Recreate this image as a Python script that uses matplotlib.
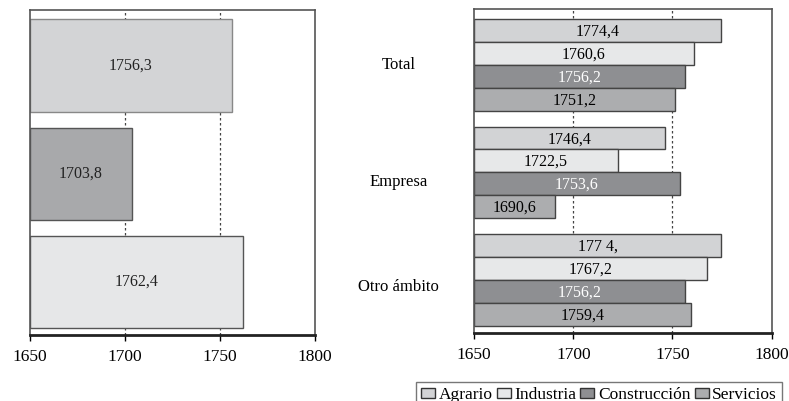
import matplotlib.pyplot as plt
from matplotlib.patches import Patch

plt.rcParams['font.family'] = ['Liberation Serif', 'DejaVu Serif']

# horas anuales por sector
sectores = ["Agrario", "Industria", "Construcción", "Servicios"]
colores = ["#d2d3d5", "#e7e8e9", "#8e8f92", "#acadaf"]
texto_col = ["black", "black", "white", "black"]

# panel izquierdo
izq_vals = [1756.3, 1703.8, 1762.4]
izq_cols = ["#d3d4d6", "#a8a9ab", "#e6e7e8"]

# panel derecho
ambitos = ["Total", "Empresa", "Otro ámbito"]
total = [1774.4, 1760.6, 1756.2, 1751.2]
empresa = [1746.4, 1722.5, 1753.6, 1690.6]
otro = [1774.4, 1767.2, 1756.2, 1759.4]
otro_etiq = ["177 4,", "1767,2", "1756,2", "1759,4"]

fig = plt.figure(figsize=(7.89, 4.01), dpi=100)
ax1 = fig.add_axes([0.038, 0.165, 0.361, 0.81])
ax2 = fig.add_axes([0.601, 0.170, 0.377, 0.807])

base = 1650
paso = 4.7

def estilo(ax):
    ax.set_xlim(1650, 1800)
    ax.set_xticks([1650, 1700, 1750, 1800])
    ax.set_yticks([])
    for x in (1700, 1750):
        ax.axvline(x, color="#444444", ls=(0, (2, 2)), lw=0.9, zorder=0)
    for s in ax.spines.values():
        s.set_color("#555555")
        s.set_linewidth(1.2)
    ax.spines["bottom"].set_color("#222222")
    ax.spines["bottom"].set_linewidth(2)
    ax.tick_params(axis="x", direction="out", length=4, width=1, labelsize=12.5, pad=6)

# izquierdo
for i, v in enumerate(izq_vals):
    y = i * paso
    ax1.barh(y, v - base, left=base, height=4, color=izq_cols[i],
             edgecolor="#555555" if i else "#888888", lw=1, zorder=2)
    ax1.text((base + v) / 2, y, f"{v:.1f}".replace(".", ","), ha="center",
             va="center", fontsize=11.5, color="#222222", zorder=3)
ax1.set_ylim(2 * paso + 2.3, -2.41)
estilo(ax1)

# derecho
grupos = [total, empresa, otro]
for g, vals in enumerate(grupos):
    for j, v in enumerate(vals):
        y = g * paso + j
        ax2.barh(y, v - base, left=base, height=1, color=colores[j],
                 edgecolor="#444444", lw=1, zorder=2)
        if g == 2:
            lab = otro_etiq[j]
        else:
            lab = f"{v:.1f}".replace(".", ",")
        ax2.text((base + v) / 2, y + 0.05, lab, ha="center", va="center",
                 fontsize=11.5, color=texto_col[j], zorder=3)
ax2.set_ylim(2 * paso + 3 + 0.8, -0.92)
estilo(ax2)

# rótulos de grupo a la izquierda del panel
rot_y = [1.5, paso + 1.9, 2 * paso + 1.8]
for nombre, yy in zip(ambitos, rot_y):
    ax2.text(-0.255, yy, nombre, transform=ax2.get_yaxis_transform(),
             ha="center", va="center", fontsize=12)

handles = [Patch(facecolor=c, edgecolor="#333333", lw=1) for c in colores]
fig.legend(handles, sectores, loc="upper left", bbox_to_anchor=(0.527, 0.047),
           ncol=4, frameon=True, fancybox=False, edgecolor="#555555",
           fontsize=12.5, handlelength=0.8, handleheight=0.55,
           handletextpad=0.2, columnspacing=0.25, borderpad=0.3,
           borderaxespad=0)

fig.savefig("out.png", dpi=100)
